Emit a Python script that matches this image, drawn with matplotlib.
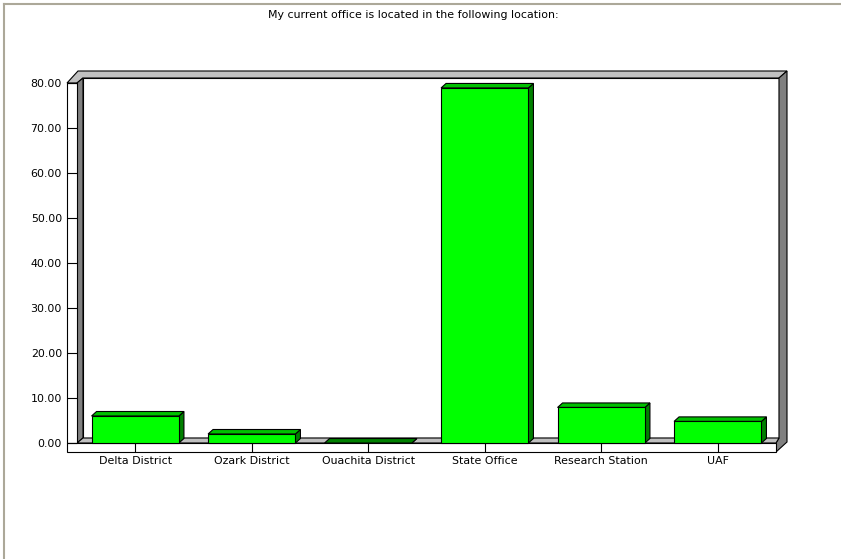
import matplotlib
matplotlib.use("Agg")
import matplotlib.pyplot as plt
from matplotlib.patches import Polygon, Rectangle

# data
categories = ["Delta District", "Ozark District", "Ouachita District",
              "State Office", "Research Station", "UAF"]
values = [6.0, 2.0, 0.0, 78.9, 7.9, 4.8]
y_ticks = [0, 10, 20, 30, 40, 50, 60, 70, 80]
title = "My current office is located in the following location:"

W, H = 841, 559
FONT = 7.9

# front plane of the plot in image pixels
X0, X1 = 77, 776
Y0, Y1 = 443, 83
BAR_W = 0.75
BAR_DX, BAR_DY = 5, 4.5  # bar depth in px

LIGHT = "#c0c0c0"
DARK = "#808080"
FRONT = "#00ff00"
TOP = "#00c000"
SIDE = "#008000"

fig = plt.figure(figsize=(W / 100, H / 100), dpi=100, facecolor="white")
ax = fig.add_axes([X0 / W, 1 - Y0 / H, (X1 - X0) / W, (Y0 - Y1) / H])
ax.set_xlim(-0.5, len(categories) - 0.5)
ax.set_ylim(0, 80)
ax.patch.set_visible(False)
for s in ax.spines.values():
    s.set_visible(False)


def px(pts):
    return [(x / W, 1 - y / H) for x, y in pts]


def frame_poly(pts, color, z=0.5):
    ax.add_patch(Polygon(px(pts), closed=True, facecolor=color, edgecolor="black",
                         lw=0.8, transform=fig.transFigure, clip_on=False, zorder=z))


# walls / frame
frame_poly([(83, 78), (779, 78), (779, 438), (83, 438)], "white", 0.3)
frame_poly([(67, 83), (78, 71), (787, 71), (779, 78), (83, 78), (77, 83)], LIGHT)
frame_poly([(77, 83), (83, 78), (83, 438), (77, 443)], DARK)
frame_poly([(779, 78), (787, 71), (787, 442), (776, 452), (776, 443), (779, 438)], DARK)
frame_poly([(77, 443), (83, 438), (779, 438), (776, 443)], LIGHT)
frame_poly([(67, 83), (77, 83), (77, 443), (67, 443)], "white", 0.6)
frame_poly([(67, 443), (776, 443), (776, 452), (67, 452)], "white", 0.6)

# bars with a bit of depth
ddx = BAR_DX * (len(categories)) / (X1 - X0)
ddy = BAR_DY * 80 / (Y0 - Y1)
xs = list(range(len(categories)))
for x, v in zip(xs, values):
    l, r = x - BAR_W / 2, x + BAR_W / 2
    ax.add_patch(Polygon([(r, 0), (r, v), (r + ddx, v + ddy), (r + ddx, ddy)],
                         facecolor=SIDE, edgecolor="black", lw=0.8, zorder=3, clip_on=False))
    ax.add_patch(Polygon([(l, v), (r, v), (r + ddx, v + ddy), (l + ddx, v + ddy)],
                         facecolor=TOP if v > 0 else SIDE, edgecolor="black", lw=0.8,
                         zorder=3, clip_on=False))
    if v > 0:
        ax.add_patch(Rectangle((l, 0), BAR_W, v, facecolor=FRONT, edgecolor="black",
                               lw=0.8, zorder=4, clip_on=False))

ax.set_yticks(y_ticks)
ax.set_yticklabels([f"{t:.2f}" for t in y_ticks])
ax.set_xticks(xs)
ax.set_xticklabels(categories)
ax.tick_params(axis="y", direction="out", length=7.2, width=0.8, pad=3.6, labelsize=FONT)
ax.tick_params(axis="x", direction="in", length=6.5, width=0.8, pad=9.5, labelsize=FONT)
for t in ax.xaxis.get_major_ticks():
    t.tick1line.set_marker(3)  # tick pointing down into the floor face
    t.tick1line.set_markersize(6.5)

fig.text(413 / W, 1 - 15 / H, title, ha="center", va="center", fontsize=FONT)

# page border lines
fig.add_artist(plt.Line2D([4 / W, 1], [1 - 4 / H, 1 - 4 / H], color="#aca899", lw=1.5,
                          transform=fig.transFigure))
fig.add_artist(plt.Line2D([4 / W, 4 / W], [0, 1 - 4 / H], color="#aca899", lw=1.5,
                          transform=fig.transFigure))

fig.savefig("out.png", dpi=100)
